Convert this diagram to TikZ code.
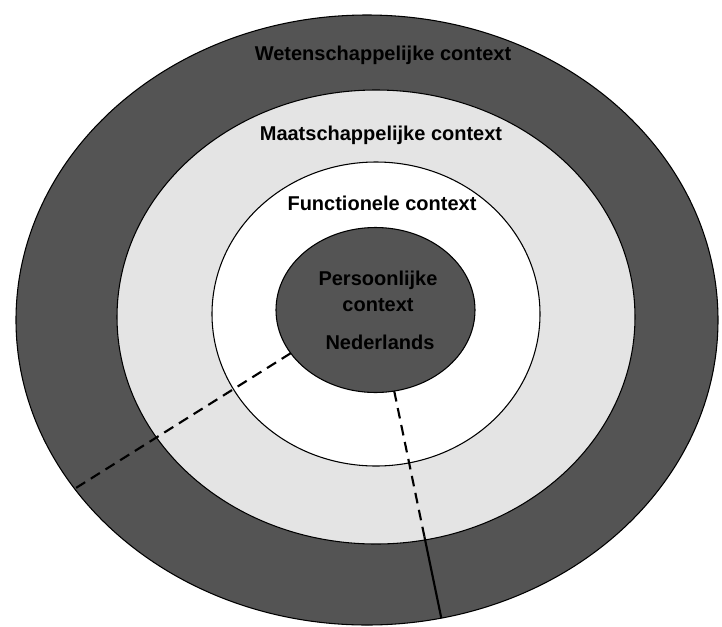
\documentclass[tikz,border=0pt]{standalone}
\usepackage{fontspec}
\setmainfont{Liberation Sans}
\usetikzlibrary{shapes.geometric,calc}
\definecolor{darkfill}{RGB}{84,84,84}
\definecolor{lightfill}{RGB}{228,228,228}
\begin{document}
\begin{tikzpicture}[x=0.75pt,y=-0.75pt,
  ring/.style={ellipse,draw=black,line width=0.8pt,inner sep=0pt,outer sep=0pt},
  lbl/.style={font=\fontsize{15}{18}\selectfont\bfseries,inner sep=0pt,text=black},
  cutline/.style={line width=1.6pt,dash pattern=on 8pt off 5pt},
  cutsolid/.style={line width=1.6pt}]
\useasboundingbox (0,0) rectangle (722,626);
\node[ring,fill=darkfill,minimum width=526.5pt,minimum height=457.5pt] (outer) at (367,320) {};
\node[ring,fill=lightfill,minimum width=388.5pt,minimum height=340.5pt] (light) at (376,317) {};
\node[ring,fill=white,minimum width=246pt,minimum height=228pt] (white) at (376,314) {};
\node[ring,fill=darkfill,minimum width=149.25pt,minimum height=123.75pt] (inner) at (375.5,310) {};
% cut lines
\draw[cutline] (inner.207) -- (outer.210);
\coordinate (m2) at ($(inner.283)!0.64!(outer.284)$);
\draw[cutline] (inner.283) -- (m2);
\draw[cutsolid] (m2) -- (outer.284);
% labels
\node[lbl] (wet) at (383,55) {Wetenschappelijke context};
\node[lbl] (maat) at (381,135) {Maatschappelijke context};
\node[lbl] (func) at (382,203) {Functionele context};
\node[lbl] (pers) at (378,280) {Persoonlijke};
\node[lbl] (ctx) at (378,305) {context};
\node[lbl] (ned) at (380,342) {Nederlands};
\end{tikzpicture}
\end{document}
